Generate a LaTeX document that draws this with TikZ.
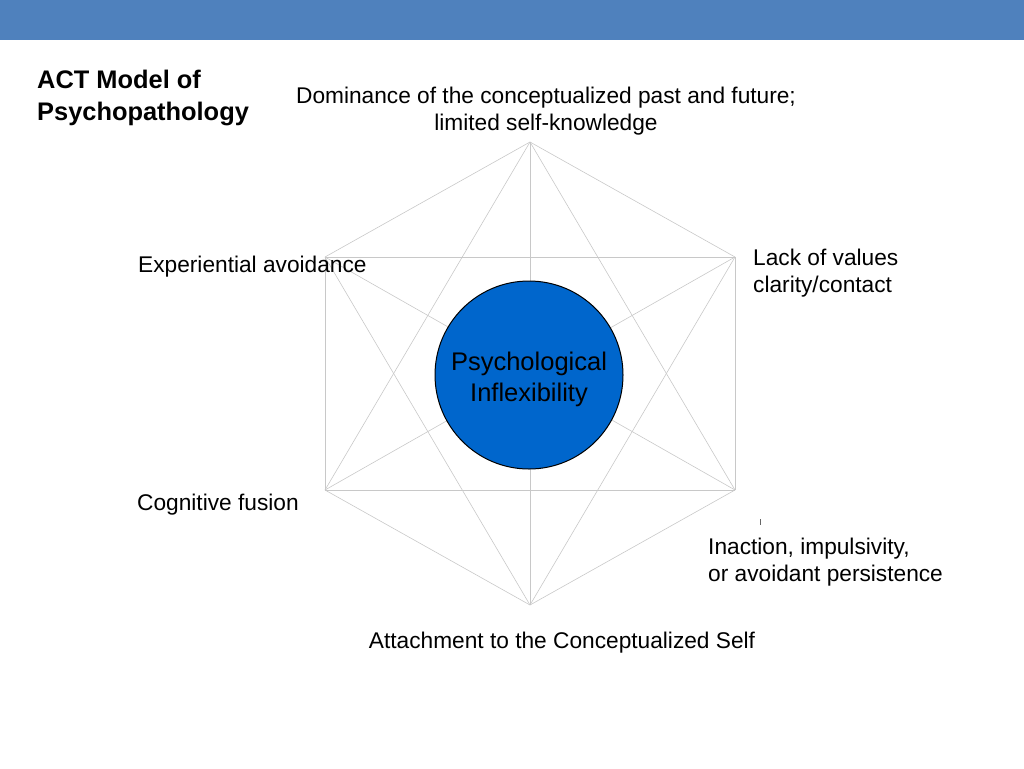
\documentclass[tikz,border=0pt]{standalone}
\usepackage{fontspec}
\setmainfont{Liberation Sans}
\usepackage{tikz}
\usetikzlibrary{positioning}
\definecolor{barblue}{HTML}{4F81BD}
\definecolor{coreblue}{HTML}{0066CC}
\definecolor{webgray}{HTML}{C8C8C8}
\tikzstyle{web} = [draw=webgray, line width=0.6pt]
\tikzstyle{lbl} = [inner sep=0pt, font=\fontsize{22.7}{27}\selectfont]

\begin{document}
\begin{tikzpicture}[x=1pt, y=-1pt]
\useasboundingbox (0, 0) rectangle (1024, 768);
\fill [barblue] (0, 0) rectangle (1024, 40);

\coordinate (top) at (530, 142);
\coordinate (ur) at (735, 257);
\coordinate (lr) at (735, 490);
\coordinate (bot) at (530, 605);
\coordinate (ll) at (325, 490);
\coordinate (ul) at (325, 257);

\draw [web] (top) to (ur);
\draw [web] (top) to (lr);
\draw [web] (top) to (bot);
\draw [web] (top) to (ll);
\draw [web] (top) to (ul);
\draw [web] (ur) to (lr);
\draw [web] (ur) to (bot);
\draw [web] (ur) to (ll);
\draw [web] (ur) to (ul);
\draw [web] (lr) to (bot);
\draw [web] (lr) to (ll);
\draw [web] (lr) to (ul);
\draw [web] (bot) to (ll);
\draw [web] (bot) to (ul);
\draw [web] (ll) to (ul);

\node [circle, draw=black, line width=1pt, fill=coreblue, minimum size=188pt] (core) at (529, 375) {};
\node [align=center, inner sep=0pt, font=\fontsize{25.5}{31}\selectfont] (coretext) at (529, 379) {Psychological\\Inflexibility};

\node [anchor=west, align=left, inner sep=0pt, font=\bfseries\fontsize{25.4}{32}\selectfont] (title) at (37, 98) {ACT Model of\\Psychopathology};
\node [lbl, align=center] (past) at (546, 111) {Dominance of the conceptualized past and future;\\limited self-knowledge};
\node [lbl, anchor=west] (avoid) at (138, 267) {Experiential avoidance};
\node [lbl, anchor=west, align=left] (values) at (753, 273) {Lack of values\\clarity/contact};
\node [lbl, anchor=west] (fusion) at (137, 505) {Cognitive fusion};
\node [lbl, anchor=west, align=left] (inaction) at (708, 562) {Inaction, impulsivity,\\or avoidant persistence};
\node [lbl] (self) at (562, 643) {Attachment to the Conceptualized Self};

\coordinate (tick) at (760, 519);
\draw [line width=0.6pt, draw=black!60] (tick) to ++(0, 6);
\end{tikzpicture}
\end{document}
